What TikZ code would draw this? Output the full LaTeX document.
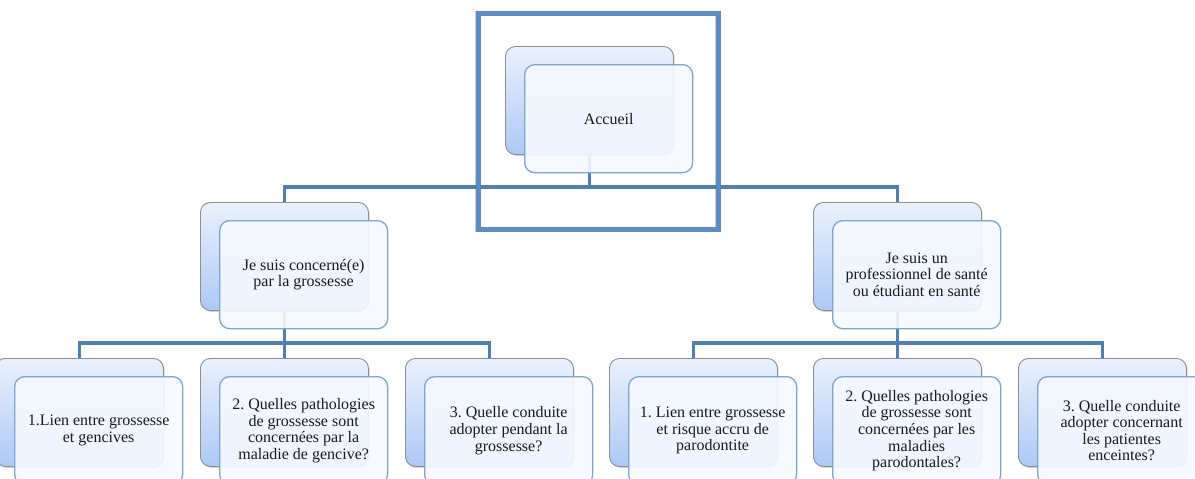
\documentclass[tikz,border=0pt]{standalone}
\usepackage{fontspec}
\setmainfont{Liberation Serif}
\usetikzlibrary{shadows}
\definecolor{linkblue}{HTML}{4F7FB9}
\definecolor{frameblue}{HTML}{5A8BC6}
\definecolor{frontedge}{HTML}{7DA5D6}
\definecolor{frontfill}{HTML}{F6F9FE}
\definecolor{backtop}{HTML}{EAF1FC}
\definecolor{backbot}{HTML}{ADC9F6}
\definecolor{backedge}{HTML}{8E8E8E}
\definecolor{inktext}{HTML}{1A1A1A}
\tikzset{
  backcard/.style={draw=backedge, line width=0.9pt, rounded corners=10pt,
    top color=backtop, bottom color=backbot, minimum width=168pt,
    minimum height=108pt, anchor=north west, inner sep=0pt,
    drop shadow={shadow xshift=1.2pt, shadow yshift=-1.5pt, opacity=0.35}},
  frontcard/.style={draw=frontedge, line width=1.3pt, rounded corners=10pt,
    fill=frontfill, fill opacity=0.9, text opacity=1, minimum width=168pt,
    minimum height=108pt, anchor=north west, inner sep=2pt, align=center,
    text=inktext, font=\fontsize{16}{16.6}\selectfont},
  link/.style={draw=linkblue, line width=3.6pt},
  homeframe/.style={draw=frameblue, line width=5pt}
}
\begin{document}
\frenchspacing
\begin{tikzpicture}[x=1pt,y=-1pt]
\useasboundingbox (0,0) rectangle (1195,479);
\clip (0,0) rectangle (1195,479);
\fill[white] (0,0) rectangle (1195,479);

% back cards first, connectors, then the translucent front cards
\node[backcard] (hb) at (505,46) {};
\node[backcard] (lb) at (200,202) {};
\node[backcard] (rb) at (813,202) {};
\node[backcard] (l1b) at (-5,358) {};
\node[backcard] (l2b) at (200,358) {};
\node[backcard] (l3b) at (405,358) {};
\node[backcard] (r1b) at (609,358) {};
\node[backcard] (r2b) at (813,358) {};
\node[backcard] (r3b) at (1018,358) {};

% connectors
\coordinate (busA) at (0,187);
\coordinate (busL) at (0,343);
\draw[link] (hb.south) -- (hb.south |- busA);
\draw[link] (lb.north) |- (hb.south |- busA) -| (rb.north);
\draw[link] (lb.south) -- (lb.south |- busL);
\draw[link] (l1b.north) |- (lb.south |- busL) -| (l3b.north);
\draw[link] (l2b.north) -- (l2b.north |- busL);
\draw[link] (rb.south) -- (rb.south |- busL);
\draw[link] (r1b.north) |- (rb.south |- busL) -| (r3b.north);
\draw[link] (r2b.north) -- (r2b.north |- busL);

% front cards with the texts
\node[frontcard] (hf) at (524,64) {Accueil};
\node[frontcard] (lf) at (219,220) {Je suis concerné(e)\\par la grossesse};
\node[frontcard] (rf) at (832,220) {Je suis un\\professionnel de santé\\ou étudiant en santé};
\node[frontcard] (l1f) at (14,376) {1.Lien entre grossesse\\et gencives};
\node[frontcard] (l2f) at (219,376) {2. Quelles pathologies\\de grossesse sont\\concernées par la\\maladie de gencive?};
\node[frontcard] (l3f) at (424,376) {3. Quelle conduite\\adopter pendant la\\grossesse?};
\node[frontcard] (r1f) at (628,376) {1. Lien entre grossesse\\et risque accru de\\parodontite};
\node[frontcard] (r2f) at (832,376) {2. Quelles pathologies\\de grossesse sont\\concernées par les\\maladies\\parodontales?};
\node[frontcard] (r3f) at (1037,376) {3. Quelle conduite\\adopter concernant\\les patientes\\enceintes?};

% highlight frame round the home page, with a soft shadow line
\draw[black, opacity=0.18, line width=5pt] (477.5,13) rectangle (717.5,229);
\node[homeframe, minimum width=240pt, minimum height=216pt, anchor=north west] (frame) at (476,11) {};
\end{tikzpicture}
\end{document}
